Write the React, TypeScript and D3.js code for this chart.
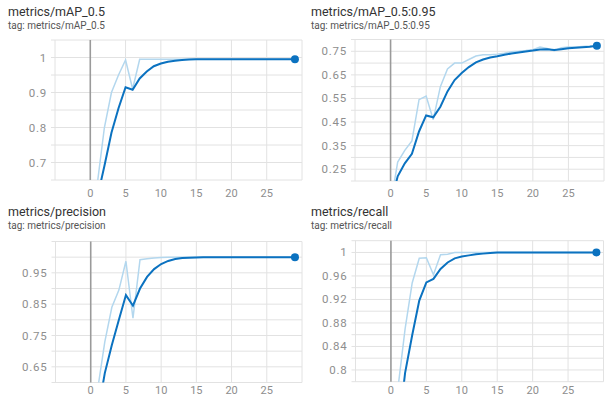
import React from "react";
import * as d3 from "d3";

// ---------- data ----------
const epochs = d3.range(0, 30);
const xTickLabels = [0, 5, 10, 15, 20, 25];

const titles = ["metrics/mAP_0.5", "metrics/mAP_0.5:0.95", "metrics/precision", "metrics/recall"];

const map05Raw = [0.3, 0.64, 0.8, 0.9, 0.95, 0.993, 0.91, 0.995, 0.995, 0.995, 0.995, 0.995, 0.995, 0.995, 0.995, 0.995, 0.995, 0.995, 0.995, 0.995, 0.995, 0.995, 0.995, 0.995, 0.995, 0.995, 0.995, 0.995, 0.995, 0.995];
const map05Smooth = [0.3, 0.6, 0.69, 0.785, 0.855, 0.915, 0.908, 0.94, 0.96, 0.975, 0.983, 0.988, 0.991, 0.993, 0.994, 0.995, 0.995, 0.995, 0.995, 0.995, 0.995, 0.995, 0.995, 0.995, 0.995, 0.995, 0.995, 0.995, 0.995, 0.995];
const map05Ticks = [0.7, 0.8, 0.9, 1];

const map0595Raw = [0.1, 0.28, 0.33, 0.37, 0.545, 0.56, 0.46, 0.6, 0.675, 0.7, 0.7, 0.715, 0.73, 0.735, 0.735, 0.738, 0.742, 0.748, 0.75, 0.753, 0.757, 0.768, 0.762, 0.752, 0.765, 0.768, 0.768, 0.77, 0.772, 0.776];
const map0595Smooth = [0.1, 0.22, 0.275, 0.315, 0.41, 0.478, 0.47, 0.515, 0.58, 0.628, 0.658, 0.683, 0.703, 0.715, 0.724, 0.729, 0.735, 0.741, 0.745, 0.749, 0.753, 0.758, 0.759, 0.755, 0.759, 0.763, 0.765, 0.767, 0.769, 0.773];
const map0595Ticks = [0.25, 0.35, 0.45, 0.55, 0.65, 0.75];

const precisionRaw = [0.3, 0.58, 0.73, 0.84, 0.895, 0.987, 0.805, 0.992, 0.995, 0.997, 0.999, 1, 1, 1, 1, 1, 1, 1, 1, 1, 1, 1, 1, 1, 1, 1, 1, 1, 1, 1];
const precisionSmooth = [0.3, 0.5, 0.63, 0.72, 0.8, 0.879, 0.845, 0.9, 0.937, 0.962, 0.978, 0.988, 0.994, 0.997, 0.998, 0.999, 1, 1, 1, 1, 1, 1, 1, 1, 1, 1, 1, 1, 1, 1];
const precisionTicks = [0.65, 0.75, 0.85, 0.95];

const recallRaw = [0.5, 0.77, 0.87, 0.948, 0.99, 0.991, 0.962, 0.996, 0.997, 1, 1, 1, 1, 1, 1, 1, 1, 1, 1, 1, 1, 1, 1, 1, 1, 1, 1, 1, 1, 1];
const recallSmooth = [0.5, 0.69, 0.795, 0.859, 0.918, 0.949, 0.955, 0.972, 0.983, 0.99, 0.993, 0.995, 0.997, 0.998, 0.999, 1, 1, 1, 1, 1, 1, 1, 1, 1, 1, 1, 1, 1, 1, 1];
const recallTicks = [0.8, 0.84, 0.88, 0.92, 0.96, 1];

// ---------- layout ----------
const W = 608;
const H = 397;
const DARK = "#0b72c0";
const LIGHT = "#b3d7ee";

const panels = [
  { title: titles[0], raw: map05Raw, smooth: map05Smooth, ticks: map05Ticks, ox: 0, oy: 0, left: 55, right: 302, top: 40, bottom: 180, yDomain: [0.65, 1.05], grid: 0.05, tx: 8, xly: 197 },
  { title: titles[1], raw: map0595Raw, smooth: map0595Smooth, ticks: map0595Ticks, ox: 304, oy: 0, left: 51, right: 300, top: 39.5, bottom: 181, yDomain: [0.2, 0.8], grid: 0.05, tx: 7, xly: 197 },
  { title: titles[2], raw: precisionRaw, smooth: precisionSmooth, ticks: precisionTicks, ox: 0, oy: 200, left: 55.5, right: 302, top: 41.5, bottom: 182.5, yDomain: [0.6, 1.05], grid: 0.05, tx: 8, xly: 194 },
  { title: titles[3], raw: recallRaw, smooth: recallSmooth, ticks: recallTicks, ox: 304, oy: 200, left: 51.5, right: 299.5, top: 40.7, bottom: 181.7, yDomain: [0.78, 1.02], grid: 0.02, tx: 7, xly: 194 },
];

const fmt = (v: number) => String(+v.toFixed(2));

function Panel({ p, idx }: { p: any; idx: number }) {
  const x = d3.scaleLinear().domain([-5, 30]).range([p.left, p.right]);
  const y = d3.scaleLinear().domain(p.yDomain).range([p.bottom, p.top]);
  const n = Math.round((p.yDomain[1] - p.yDomain[0]) / p.grid);
  const gridVals = d3.range(0, n + 1).map((i) => p.yDomain[0] + i * p.grid);
  const xGrid = [-5, 0, 5, 10, 15, 20, 25, 30];
  const line = d3
    .line<number>()
    .x((_, i) => x(epochs[i]))
    .y((d) => y(d));
  const clipId = `clip-${idx}`;
  const last = p.smooth.length - 1;
  return (
    <g transform={`translate(${p.ox},${p.oy})`}>
      <defs>
        <clipPath id={clipId}>
          <rect x={p.left} y={p.top} width={p.right - p.left} height={p.bottom - p.top} />
        </clipPath>
      </defs>
      <text x={p.tx} y={16} fontSize={12.5} fontWeight={400} fill="#333">{p.title}</text>
      <text x={p.tx} y={28.5} fontSize={10} fontWeight={400} fill="#555">{"tag: " + p.title}</text>
      {gridVals.map((v, i) => (
        <line key={"h" + i} x1={p.left - 4} x2={p.right} y1={y(v)} y2={y(v)} stroke="#e2e2e2" strokeWidth={1} />
      ))}
      {xGrid.map((v) => (
        <line key={"v" + v} x1={x(v)} x2={x(v)} y1={p.top} y2={p.bottom} stroke={v === 0 ? "#9a9a9a" : "#e2e2e2"} strokeWidth={v === 0 ? 1.6 : 1} />
      ))}
      {p.ticks.map((v: number) => (
        <text key={"yt" + v} x={p.left - 8} y={y(v)} dy="0.35em" textAnchor="end" fontSize={11.5} letterSpacing={0.8} fill="#8e8e8e">
          {fmt(v)}
        </text>
      ))}
      {xTickLabels.map((v) => (
        <text key={"xt" + v} x={x(v)} y={p.xly} textAnchor="middle" fontSize={11} fill="#8e8e8e">
          {v}
        </text>
      ))}
      <g clipPath={`url(#${clipId})`}>
        <path d={line(p.raw) || ""} fill="none" stroke={LIGHT} strokeWidth={1.5} />
        <path d={line(p.smooth) || ""} fill="none" stroke={DARK} strokeWidth={2} />
      </g>
      <circle cx={x(epochs[last])} cy={y(p.smooth[last])} r={4} fill={DARK} />
    </g>
  );
}

export default function App() {
  return (
    <svg width={W} height={H} style={{ position: "absolute", left: 0, top: 0, fontFamily: "Roboto, sans-serif", background: "#fff" }}>
      <rect width={W} height={H} fill="#fff" />
      {panels.map((p, i) => (
        <Panel key={i} p={p} idx={i} />
      ))}
    </svg>
  );
}
